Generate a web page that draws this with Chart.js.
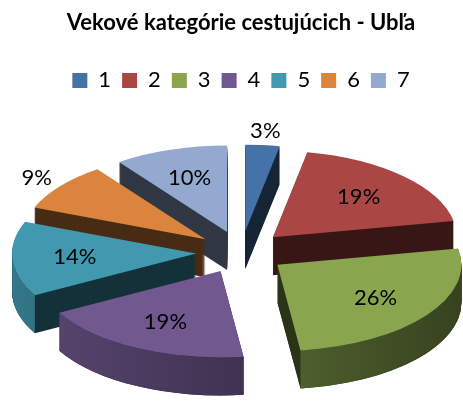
<!DOCTYPE html>
<html>
<head>
<meta charset="utf-8">
<script src="https://cdn.jsdelivr.net/npm/chart.js@4"></script>
<style>
  html, body { margin: 0; padding: 0; background: #fff; }
</style>
</head>
<body>
<canvas id="chart" width="463" height="403"></canvas>
<script>
const title = 'Vekové kategórie cestujúcich - Ubľa';
const categories = ['1', '2', '3', '4', '5', '6', '7'];
const shares = [3, 19, 26, 19, 14, 9, 10];
const colors = ['#4572A7', '#AA4643', '#89A54E', '#71588F', '#4198AF', '#DB843D', '#93A9CF'];

function shade(hex, f) {
  const n = parseInt(hex.slice(1), 16);
  const r = Math.round(((n >> 16) & 255) * f);
  const g = Math.round(((n >> 8) & 255) * f);
  const b = Math.round((n & 255) * f);
  return `rgb(${r},${g},${b})`;
}
const mid = a => (a.startAngle + a.endAngle) / 2;

// fake 3d: squash the pie, extrude each slice, then let the arc draw its own top
const pie3d = {
  id: 'pie3d',
  beforeDatasetsDraw(chart, args, opts) {
    const ctx = chart.ctx;
    const arcs = chart.getDatasetMeta(0).data;
    const {tilt, depth, explode} = opts;
    const cx = arcs[0].x, cy = arcs[0].y;
    const order = arcs.map((a, i) => i)
      .sort((i, j) => Math.sin(mid(arcs[i])) - Math.sin(mid(arcs[j])));

    ctx.save();
    ctx.translate(cx, cy);
    ctx.scale(1, tilt);
    ctx.translate(-cx, -cy);
    order.forEach(i => {
      const a = arcs[i];
      const m = mid(a);
      const r = a.outerRadius;
      const base = a.options.backgroundColor;
      ctx.save();
      ctx.translate(Math.cos(m) * explode, Math.sin(m) * explode);
      ctx.fillStyle = shade(base, 0.33);
      for (let d = depth; d > 0; d--) {
        ctx.beginPath();
        ctx.moveTo(a.x, a.y + d / tilt);
        ctx.arc(a.x, a.y + d / tilt, r, a.startAngle, a.endAngle);
        ctx.closePath();
        ctx.fill();
      }
      const s = Math.max(a.startAngle, 0), e = Math.min(a.endAngle, Math.PI);
      if (e > s) {
        const g = ctx.createLinearGradient(a.x - r, 0, a.x + r, 0);
        g.addColorStop(0, shade(base, 0.78));
        g.addColorStop(1, shade(base, 0.4));
        ctx.fillStyle = g;
        ctx.beginPath();
        ctx.arc(a.x, a.y, r, s, e);
        ctx.arc(a.x, a.y + depth / tilt, r, e, s, true);
        ctx.closePath();
        ctx.fill();
      }
      a.draw(ctx);
      ctx.restore();
    });
    ctx.restore();

    const total = shares.reduce((p, v) => p + v, 0);
    ctx.save();
    ctx.font = opts.font;
    ctx.fillStyle = '#000';
    ctx.textAlign = 'center';
    ctx.textBaseline = 'middle';
    arcs.forEach((a, i) => {
      const m = mid(a);
      const pct = Math.round(shares[i] / total * 100);
      const d = explode + (pct < 10 ? 1.16 : 0.66) * a.outerRadius;
      ctx.fillText(pct + '%', cx + Math.cos(m) * d, cy + Math.sin(m) * d * tilt);
    });
    ctx.restore();
    return false;
  }
};

new Chart(document.getElementById('chart'), {
  type: 'pie',
  data: {
    labels: categories,
    datasets: [{ data: shares, backgroundColor: colors, borderWidth: 0, radius: 184 }]
  },
  options: {
    responsive: false,
    animation: false,
    events: [],
    layout: { padding: { left: 19, top: 0, bottom: -9 } },
    plugins: {
      title: {
        display: true, text: title, color: '#000',
        font: { family: 'Lato', size: 22, weight: 'bold' },
        padding: { top: 10, bottom: 22 }
      },
      legend: {
        position: 'top',
        labels: { color: '#000', boxWidth: 15, boxHeight: 15, padding: 11, font: { family: 'Lato', size: 22 } }
      },
      tooltip: { enabled: false },
      pie3d: { tilt: 0.47, depth: 38, explode: 45, font: '22px Lato' }
    }
  },
  plugins: [pie3d]
});
</script>
</body>
</html>
